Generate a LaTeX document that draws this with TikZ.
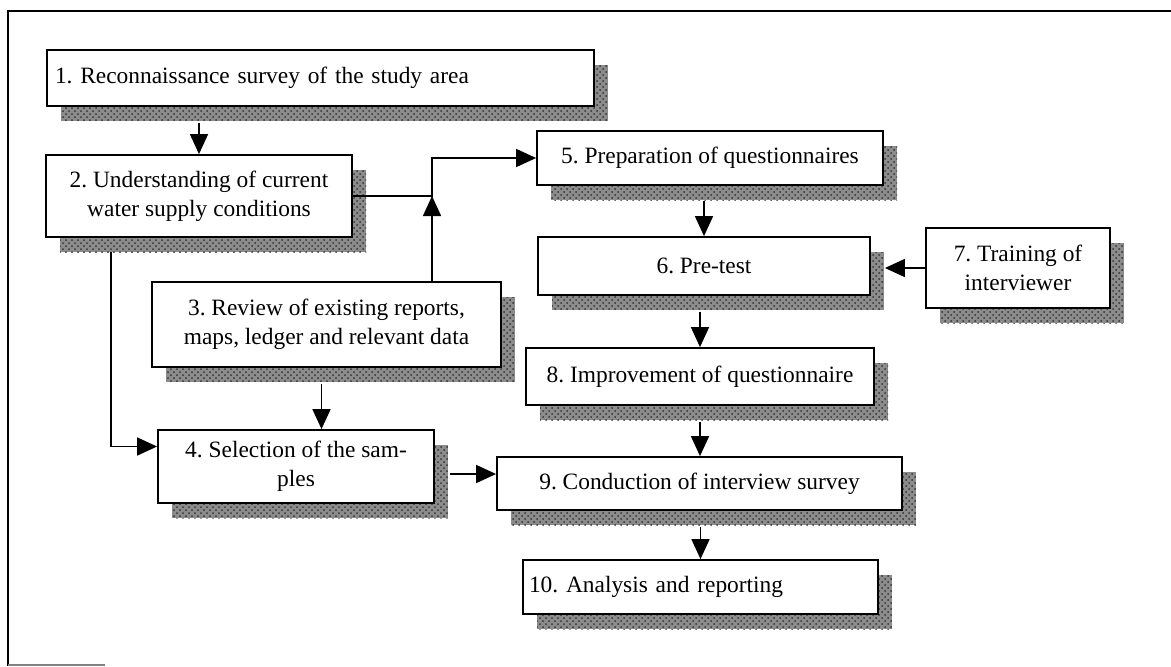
\documentclass[tikz,border=0pt]{standalone}
\usepackage{fontspec}
\setmainfont{Liberation Serif}
\frenchspacing
\usetikzlibrary{arrows.meta,shadows,patterns,calc}

\begin{document}
\begin{tikzpicture}[x=0.5pt, y=-0.5pt,
    box/.style = {draw, line width=0.9pt, fill=white, align=center,
      font=\fontsize{11.7}{14.6}\selectfont, inner sep=2pt,
      drop shadow={shadow xshift=7pt, shadow yshift=-7.5pt, fill=black!45, opacity=1,
        postaction={pattern=crosshatch dots, pattern color=black!80}}},
    arr/.style = {line width=0.8pt, -{Triangle[length=10pt, width=9pt]}}]
        \useasboundingbox (0, 0) rectangle (1171, 666);

        % outer frame, open on the right
        \draw [line width=1pt] (8, 666) -- (8, 11) -- (1171, 11);
        \draw [gray, line width=0.6pt] (8, 665) -- (105, 665);

        \node [box, align=left, inner xsep=4pt, text width=265.5pt, minimum height=28pt] (b1) at (320.5, 78) {1. Reconnaissance survey of the study area};
        \node [box, minimum width=153pt, minimum height=41pt] (b2) at (199, 196) {2. Understanding of current\\water supply conditions};
        \node [box, minimum width=174.5pt, minimum height=42.5pt] (b3) at (326.5, 324.5) {3. Review of existing reports,\\maps, ledger and relevant data};
        \node [box, minimum width=138pt, minimum height=36.5pt] (b4) at (296, 466.5) {4. Selection of the sam-\\ples};
        \node [box, minimum width=173pt, minimum height=27pt] (b5) at (710, 158) {5. Preparation of questionnaires};
        \node [box, minimum width=166pt, minimum height=29pt] (b6) at (704, 266) {6. Pre-test};
        \node [box, minimum width=92pt, minimum height=40pt] (b7) at (1018, 268) {7. Training of\\interviewer};
        \node [box, minimum width=174pt, minimum height=28.5pt] (b8) at (700, 376.5) {8. Improvement of questionnaire};
        \node [box, minimum width=202.5pt, minimum height=26.5pt] (b9) at (699.5, 483.5) {9. Conduction of interview survey};
        \node [box, align=left, inner xsep=3pt, text width=171.5pt, minimum height=27pt] (b10) at (700.5, 587) {10. Analysis and reporting};

        \coordinate (j) at (432, 196);

        \draw [arr] ([yshift=-8pt]b1.south -| b2.north) -- (b2.north);
        \draw [arr] (b2.east) -- (j) |- (b5.west);
        \draw [arr] (b3.north -| j) -- (j);
        \draw [arr] ([xshift=-44pt, yshift=-7pt]b2.south) |- ([yshift=10pt]b4.west);
        \draw [arr] ([xshift=-2.5pt, yshift=-8pt]b3.south) -- ([xshift=-2.5pt]b3.south |- b4.north);
        \draw [arr] ([xshift=7.5pt, yshift=-3.75pt]b4.east) -- ([yshift=-3.75pt]b4.east -| b9.west);
        \draw [arr] ([yshift=-7.5pt]b5.south -| b6.north) -- (b6.north);
        \draw [arr] (b7.west) -- ([xshift=7pt]b6.east |- b7.west);
        \draw [arr] ([yshift=-8pt]b6.south -| b8.north) -- (b8.north);
        \draw [arr] ([yshift=-8pt]b8.south -| b8.north) -- (b8.south |- b9.north);
        \draw [arr] ([yshift=-8pt]b9.south -| b10.north) -- (b10.north);

\end{tikzpicture}
\end{document}
